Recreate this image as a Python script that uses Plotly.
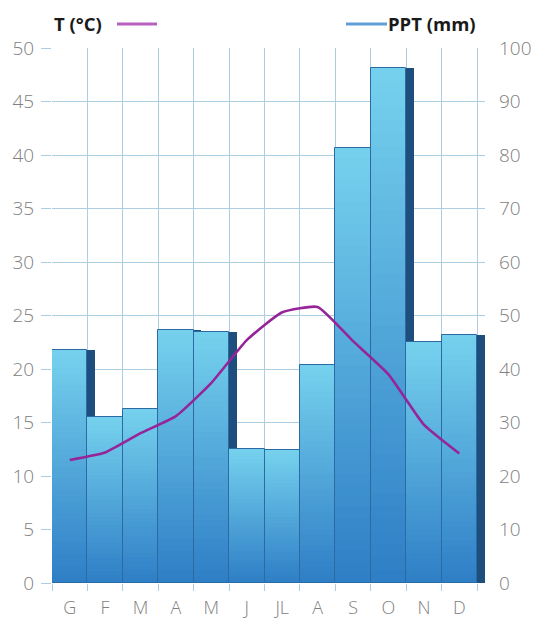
import plotly.graph_objects as go

# Monthly climate data
months = ["G", "F", "M", "A", "M", "J", "JL", "A", "S", "O", "N", "D"]
precip_mm = [43.5, 31, 32.5, 47.3, 47, 25, 24.8, 40.7, 81.4, 96.2, 45, 46.3]
temp_c = [11.5, 12.2, 14.0, 15.6, 18.7, 22.7, 25.3, 25.8, 22.6, 19.5, 14.8, 12.1]

temp_ticks = list(range(0, 55, 5))
ppt_ticks = list(range(0, 110, 10))

x_pos = list(range(len(months)))
x_edges = [i - 0.5 for i in range(len(months) + 1)]

TOP = (0x76, 0xD1, 0xEE)
BOTTOM = (0x2E, 0x7E, 0xC5)
N_STEPS = 40


def mix(t):
    r, g, b = (round(BOTTOM[k] + (TOP[k] - BOTTOM[k]) * t) for k in range(3))
    return f"rgb({r},{g},{b})"


fig = go.Figure()

# dark side face of each column
fig.add_trace(go.Bar(
    x=[i + 0.22 for i in x_pos], y=precip_mm, width=1.0, yaxis="y",
    marker=dict(color="#1d4e7e", line=dict(width=0)),
    showlegend=False, hoverinfo="skip",
))

# columns drawn as stacked slices for a vertical gradient
for s in range(N_STEPS):
    frac0 = s / N_STEPS
    fig.add_trace(go.Bar(
        x=x_pos,
        y=[v / N_STEPS + 0.02 for v in precip_mm],
        base=[v * frac0 for v in precip_mm],
        width=1.0, yaxis="y",
        marker=dict(color=mix((s + 0.5) / N_STEPS), line=dict(width=0)),
        showlegend=False, hoverinfo="skip",
    ))

# column outlines
fig.add_trace(go.Bar(
    x=x_pos, y=precip_mm, width=1.0, yaxis="y",
    marker=dict(color="rgba(0,0,0,0)", line=dict(color="#2b6aa3", width=1)),
    showlegend=False, name="PPT (mm)",
))

# temperature curve (on the overlaying axis so it sits above the columns)
fig.add_trace(go.Scatter(
    x=x_pos, y=temp_c, mode="lines", yaxis="y2",
    line=dict(color="#96259a", width=2.6, shape="spline", smoothing=0.45),
    showlegend=False, name="T (°C)",
))

tick_font = dict(family="Open Sans", size=19, color="#808080", weight=300)
grid_col = "#accde2"

fig.update_layout(
    width=534, height=619,
    margin=dict(l=52, r=49, t=48, b=36),
    paper_bgcolor="white", plot_bgcolor="white",
    barmode="overlay", bargap=0,
    xaxis=dict(
        range=[-0.5, 11.726], tickmode="array", tickvals=x_pos, ticktext=months,
        showgrid=False, zeroline=False, ticks="", showline=False,
        automargin=False, ticklabelstandoff=12,
        tickfont=dict(family="Open Sans", size=18, color="#808080", weight=300),
        minor=dict(tickmode="array", tickvals=x_edges, showgrid=True,
                   gridcolor=grid_col, gridwidth=1,
                   ticks="outside", ticklen=7, tickcolor=grid_col),
    ),
    yaxis=dict(
        range=[0, 100], tickmode="array", tickvals=ppt_ticks,
        side="right", showgrid=True, gridcolor=grid_col, gridwidth=1,
        zeroline=False, ticks="", showline=False, automargin=False,
        ticklabelstandoff=13, tickfont=tick_font,
    ),
    yaxis2=dict(
        range=[0, 50], tickmode="array", tickvals=temp_ticks,
        overlaying="y", side="left", showgrid=False, zeroline=False,
        ticks="outside", ticklen=10, tickcolor=grid_col, automargin=False,
        ticklabelstandoff=3, tickfont=tick_font, showline=False,
    ),
    font=dict(family="Open Sans"),
)

# legend captions with their line samples
plot_w = 534 - 52 - 49
fig.add_annotation(xref="paper", yref="paper", x=0.0, y=1.0, yshift=25,
                   xanchor="left", yanchor="middle", showarrow=False,
                   text="<b>T (°C)</b>",
                   font=dict(family="Open Sans", size=18.5, color="#1a1a1a"))
fig.add_shape(type="line", xref="paper", yref="paper",
              x0=(117 - 52) / plot_w, x1=(157 - 52) / plot_w,
              y0=24, y1=24, ysizemode="pixel", yanchor=1.0,
              line=dict(color="#b85fc0", width=3))
fig.add_annotation(xref="paper", yref="paper", x=(478 - 52) / plot_w, y=1.0,
                   yshift=25, xanchor="right", yanchor="middle", showarrow=False,
                   text="<b>PPT (mm)</b>",
                   font=dict(family="Open Sans", size=18.5, color="#1a1a1a"))
fig.add_shape(type="line", xref="paper", yref="paper",
              x0=(346 - 52) / plot_w, x1=(387 - 52) / plot_w,
              y0=24, y1=24, ysizemode="pixel", yanchor=1.0,
              line=dict(color="#5f9fd8", width=3))

fig.write_html("out.html")
